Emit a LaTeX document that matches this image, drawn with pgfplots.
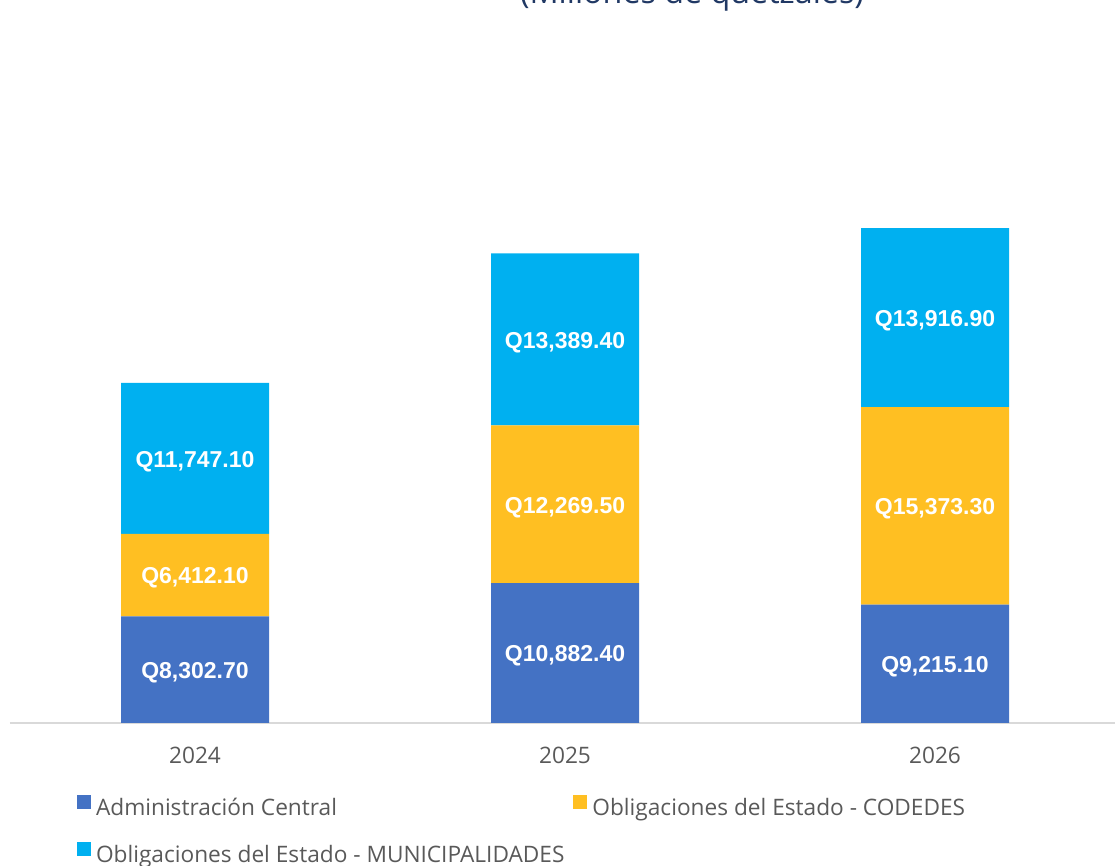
\documentclass[border=0pt]{standalone}
\usepackage{pgfplots}
\pgfplotsset{compat=1.18}
\usepackage{pgfplotstable}
\usepackage{fontspec}
\setmainfont{Open Sans}
\newfontfamily\labelfont{Liberation Sans}
\newlength\px \setlength\px{0.75pt}
\definecolor{cBlue}{HTML}{4472C4}
\definecolor{cGold}{HTML}{FFBF22}
\definecolor{cCyan}{HTML}{00B0F0}
\definecolor{cGray}{HTML}{595959}
\definecolor{cAxis}{HTML}{D9D9D9}
\definecolor{cTitle}{HTML}{203864}
\pgfplotstableread{
x a b c
0 8302.7 6412.1 11747.1
1 10882.4 12269.5 13389.4
2 9215.1 15373.3 13916.9
}\data
% label positions: middle of each segment
\pgfplotstablecreatecol[create col/expr={\thisrow{a}/2}]{ma}\data
\pgfplotstablecreatecol[create col/expr={\thisrow{a}+\thisrow{b}/2}]{mb}\data
\pgfplotstablecreatecol[create col/expr={\thisrow{a}+\thisrow{b}+\thisrow{c}/2}]{mc}\data
\pgfplotsset{
  common/.style={
    at={(10\px,143\px)}, anchor=south west,
    scale only axis, width=1110\px, height=514\px,
    xmin=-0.5, xmax=2.5, ymin=0, ymax=40000, clip=false},
  seglabel/.style={draw=none, mark=none, forget plot, point meta=explicit,
    nodes near coords={Q\pgfmathprintnumber[fixed,fixed zerofill,precision=2,1000 sep={,},assume math mode=true]{\pgfplotspointmeta}},
    every node near coord/.append style={font=\labelfont\bfseries\fontsize{17.25pt}{20pt}\selectfont, text=white, anchor=base, inner sep=0pt, yshift=-6.6pt}},
}
\begin{document}
\begin{tikzpicture}
\useasboundingbox (0,0) rectangle (1115\px,866\px);
\clip (0,0) rectangle (1115\px,866\px);
\node[anchor=base, text=cTitle, font=\fontsize{24.2pt}{28pt}\selectfont, inner sep=0] at (692\px,862\px) {(Millones de quetzales)};
\begin{axis}[
  common,
  ybar stacked,
  bar width=148\px,
  axis x line*=bottom, hide y axis,
  x axis line style={draw=cAxis, line width=2.5\px, -},
  xtick={0,1,2}, xticklabels={2024,2025,2026}, major tick length=0,
  xticklabel style={font=\fontsize{17pt}{19pt}\selectfont, text=cGray, anchor=center, yshift=-32\px},
  ytick=\empty,
  legend columns=2,
  legend cell align=left,
  legend image code/.code={\fill[#1] (0pt,0.5\px) rectangle (14\px,14.5\px);},
  legend style={at={(axis description cs:0.0604,-0.1401)}, anchor=north west, draw=none, fill=none, inner sep=0pt, outer sep=0pt, font=\fontsize{17pt}{19pt}\selectfont, text=cGray, nodes={inner sep=0pt, text height=16\px, text depth=4\px}, /tikz/every odd column/.append style={column sep=5\px}, /tikz/every even column/.append style={column sep=9\px}, row sep=22\px},
]
\addplot[fill=cBlue, draw=none] table[x=x, y=a] {\data};
\addlegendentry{Administración Central}
\addplot[fill=cGold, draw=none] table[x=x, y=b] {\data};
\addlegendentry{Obligaciones del Estado - CODEDES}
\addplot[fill=cCyan, draw=none] table[x=x, y=c] {\data};
\addlegendentry{Obligaciones del Estado - MUNICIPALIDADES}
\end{axis}
\begin{axis}[common, hide axis]
\addplot[seglabel] table[x=x, y=ma, meta=a] {\data};
\addplot[seglabel] table[x=x, y=mb, meta=b] {\data};
\addplot[seglabel] table[x=x, y=mc, meta=c] {\data};
\end{axis}
\end{tikzpicture}
\end{document}
